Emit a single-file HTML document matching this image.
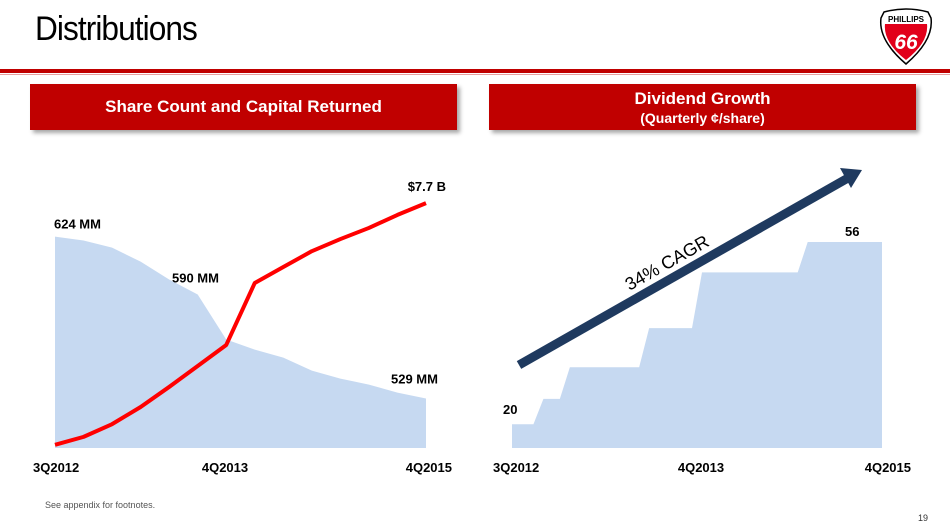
<!DOCTYPE html>
<html><head><meta charset="utf-8">
<style>
body{margin:0;width:950px;height:532px;background:#fff;font-family:"Liberation Sans",Arial,sans-serif;position:relative;overflow:hidden}
.ban{position:absolute;top:84px;height:46px;background:#c00000;color:#fff;font-weight:bold;text-align:center;box-shadow:3px 3px 4px rgba(0,0,0,.35)}
</style></head><body>
<div style="position:absolute;left:35px;top:10px;font-size:34px;letter-spacing:-1px;color:#000;transform:scaleX(0.93);transform-origin:left top">Distributions</div>
<svg style="position:absolute;left:876px;top:8px" width="60" height="58" viewBox="0 0 60 58">
<path d="M8 4 Q30 -2 52 4 L55 10 Q58 32 30 56 Q2 32 5 10 Z" fill="#fff" stroke="#000" stroke-width="1.5"/>
<path d="M9 16 L51 16 Q53 34 30 52 Q7 34 9 16 Z" fill="#e2001a"/>
<text x="30" y="14" font-size="8" font-weight="bold" text-anchor="middle" font-family="Liberation Sans">PHILLIPS</text>
<text x="30" y="41" font-size="21" font-weight="bold" font-style="italic" fill="#fff" text-anchor="middle" font-family="Liberation Sans">66</text>
</svg>
<div style="position:absolute;left:0;top:69px;width:950px;height:4px;background:#c00000"></div>
<div style="position:absolute;left:0;top:74px;width:950px;height:1px;background:#e8a0a0"></div>
<div class="ban" style="left:30px;width:427px;line-height:46px;font-size:17px">Share Count and Capital Returned</div>
<div class="ban" style="left:489px;width:427px;font-size:17px;padding-top:5px;height:41px;line-height:19px">Dividend Growth<br><span style="font-size:14px">(Quarterly ¢/share)</span></div>
<svg id="ch" width="950" height="532" style="position:absolute;left:0;top:0"></svg>
<div style="position:absolute;left:45px;top:500px;font-size:9px;color:#555">See appendix for footnotes.</div>
<div style="position:absolute;left:918px;top:513px;font-size:9px;color:#333">19</div>
<script>
const quarters=["3Q2012","4Q2012","1Q2013","2Q2013","3Q2013","4Q2013","1Q2014","2Q2014","3Q2014","4Q2014","1Q2015","2Q2015","3Q2015","4Q2015"];
const shareCount=[624,621.7,617.5,609.3,598.8,590,563.6,557.7,553,545.4,540.7,537.2,532.5,529];
const capitalReturned=[0.1,0.35,0.75,1.29,1.92,2.58,3.24,5.19,5.69,6.19,6.57,6.92,7.33,7.7];
const dividend=[20,25,31.25,31.25,31.25,39,39,50,50,50,50,56,56,56];
const xLabels=["3Q2012","4Q2013","4Q2015"];
const NS="http://www.w3.org/2000/svg";
const svg=document.getElementById('ch');
function mk(t,a,p){const e=document.createElementNS(NS,t);for(const k in a)e.setAttribute(k,a[k]);(p||svg).appendChild(e);return e;}
const base=448;
const lx=i=>55+i*(371/(quarters.length-1));
const ys=v=>base-(v-500)*1.705;
const yc=v=>base-v*31.8;
let d="M"+lx(0)+","+base;
shareCount.forEach((v,i)=>d+=" L"+lx(i)+","+ys(v));
d+=" L"+lx(quarters.length-1)+","+base+" Z";
const area=mk('path',{d:d,fill:'#c6d9f1'});


const line=mk('polyline',{points:capitalReturned.map((v,i)=>lx(i)+","+yc(v)).join(" "),fill:'none',stroke:'#ff0000','stroke-width':4,'stroke-linejoin':'round'});


function lbl(x,y,t,anchor,name){const e=mk('text',{x:x,y:y,'font-size':13,'font-weight':'bold','text-anchor':anchor||'start','font-family':'Liberation Sans'});e.textContent=t;return e;}
lbl(54,ys(shareCount[0])-8,shareCount[0]+" MM","start","label-624mm");
lbl(172,ys(shareCount[5])-12,"590 MM","start","label-590mm");
lbl(391,ys(shareCount[13])-15,"529 MM","start","label-529mm");
lbl(446,yc(capitalReturned[13])-12,"$7.7 B","end","label-7-7b");
lbl(33,472,xLabels[0],"start","left-x-label-3q2012");
lbl(225,472,xLabels[1],"middle","left-x-label-4q2013");
lbl(452,472,xLabels[2],"end","left-x-label-4q2015");
const n=dividend.length, w=370/n, rx0=512;
const yd=v=>base-(v-15.3)*5.06;
let p="M"+rx0+","+base+" L"+rx0+","+yd(dividend[0]);
for(let i=0;i<n;i++){
  const xs=rx0+i*w, xe=rx0+(i+1)*w;
  if(i>0&&dividend[i]!==dividend[i-1]) p+=" L"+(xs+5)+","+yd(dividend[i]);
  if(i<n-1&&dividend[i+1]!==dividend[i]) p+=" L"+(xe-5)+","+yd(dividend[i]);
  else if(i===n-1) p+=" L"+xe+","+yd(dividend[i]);
}
p+=" L"+(rx0+n*w)+","+base+" Z";
const st=mk('path',{d:p,fill:'#c6d9f1'});


lbl(503,yd(dividend[0])-10,"20","start","label-20");
lbl(845,yd(dividend[n-1])-6,"56","start","label-56");
lbl(493,472,xLabels[0],"start","right-x-label-3q2012");
lbl(701,472,xLabels[1],"middle","right-x-label-4q2013");
lbl(911,472,xLabels[2],"end","right-x-label-4q2015");
const ar=mk('line',{x1:519,y1:365,x2:848,y2:178,stroke:'#1f3a5f','stroke-width':9});


const ah=mk('polygon',{points:"862,170 840,168 851,188",fill:'#1f3a5f'});


const ct=mk('text',{x:0,y:0,'font-size':18,'text-anchor':'middle','font-family':'Liberation Sans',transform:'translate(670,268) rotate(-29.6)'});
ct.textContent="34% CAGR";


</script>
</body></html>
